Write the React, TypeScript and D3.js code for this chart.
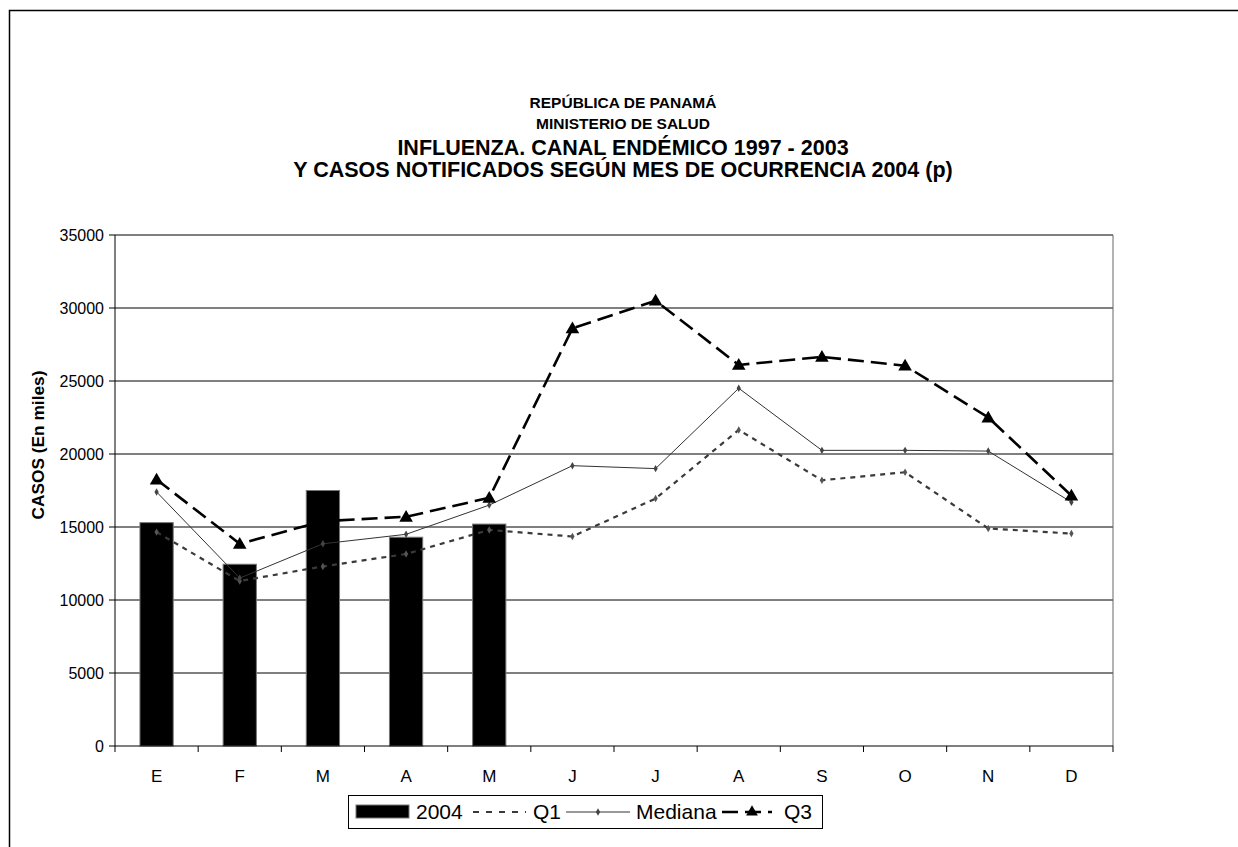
import * as d3 from 'd3';

// meses (E..D), valores en casos
const months = ['E', 'F', 'M', 'A', 'M', 'J', 'J', 'A', 'S', 'O', 'N', 'D'];
const cases2004 = [15300, 12450, 17500, 14300, 15200];
const q1 = [14650, 11300, 12300, 13150, 14800, 14350, 16950, 21650, 18200, 18750, 14900, 14550];
const mediana = [17400, 11500, 13850, 14500, 16500, 19200, 19000, 24500, 20250, 20250, 20200, 16700];
const q3 = [18250, 13850, 15400, 15700, 17000, 28600, 30500, 26100, 26650, 26050, 22500, 17150];
const yTicks = [0, 5000, 10000, 15000, 20000, 25000, 30000, 35000];
const titleLines = [
  'REPÚBLICA DE PANAMÁ',
  'MINISTERIO DE SALUD',
  'INFLUENZA. CANAL ENDÉMICO 1997 - 2003',
  'Y CASOS NOTIFICADOS SEGÚN MES DE OCURRENCIA 2004 (p)',
];

const font = '"Liberation Sans", Arial, sans-serif';

export default function App() {
  const width = 1238;
  const height = 847;
  const left = 115, right = 1113, top = 235, bottom = 746;

  const x = d3.scaleBand<number>()
    .domain(d3.range(months.length))
    .range([left, right]);
  const y = d3.scaleLinear().domain([0, 35000]).range([bottom, top]);
  const cx = (i: number) => x(i)! + x.bandwidth() / 2;
  const barW = x.bandwidth() * 0.4;

  const line = d3.line<number>().x((_, i) => cx(i)).y(d => y(d));
  const tri = d3.symbol(d3.symbolTriangle, 80)();
  const diamond = d3.symbol(d3.symbolDiamond, 16)();
  const triSmall = d3.symbol(d3.symbolTriangle, 60)();

  return (
    <svg width={width} height={height} style={{ position: 'absolute', left: 0, top: 0, fontFamily: font }}>
      <rect x={0} y={0} width={width} height={height} fill="#fff" />
      <rect x={9.5} y={10.5} width={1300} height={900} fill="none" stroke="#000" strokeWidth={1.5} />

      {/* titulo */}
      {titleLines.map((t, i) => (
        <text key={i} x={623} y={[108, 129, 155, 177][i]} textAnchor="middle"
          fontWeight="bold" fontSize={i < 2 ? 15.5 : 21.5}>{t}</text>
      ))}

      {/* grid */}
      {yTicks.filter(t => t > 0).map(t => (
        <line key={t} x1={left} x2={right} y1={y(t)} y2={y(t)} stroke="#000" strokeWidth={1} />
      ))}
      <line x1={right} x2={right} y1={top} y2={bottom} stroke="#666" strokeWidth={1} />

      {/* barras 2004 */}
      {cases2004.map((v, i) => (
        <rect key={i} x={cx(i) - barW / 2} y={y(v)} width={barW} height={bottom - y(v)}
          fill="#000" stroke="#777" strokeWidth={1} />
      ))}

      {/* ejes */}
      <line x1={left} x2={left} y1={top} y2={bottom} stroke="#000" />
      <line x1={left} x2={right} y1={bottom} y2={bottom} stroke="#000" />
      {yTicks.map(t => (
        <g key={t}>
          <line x1={left - 6} x2={left} y1={y(t)} y2={y(t)} stroke="#000" />
          <text x={left - 11} y={y(t)} dy="0.35em" textAnchor="end" fontSize={16}>{t}</text>
        </g>
      ))}
      {d3.range(months.length + 1).map(i => {
        const xx = left + i * x.bandwidth();
        return <line key={i} x1={xx} x2={xx} y1={bottom} y2={bottom + 6} stroke="#000" />;
      })}
      {months.map((m, i) => (
        <text key={i} x={cx(i)} y={776} dy="0.35em" textAnchor="middle" fontSize={17}>{m}</text>
      ))}
      <text transform={`translate(38,${445}) rotate(-90)`} textAnchor="middle" dy="0.35em"
        fontWeight="bold" fontSize={17.3}>CASOS (En miles)</text>

      {/* Q1 */}
      <path d={line(q1)!} fill="none" stroke="#3a3a3a" strokeWidth={2.2} strokeDasharray="5,5" />
      {q1.map((v, i) => (
        <path key={i} d={diamond!} transform={`translate(${cx(i)},${y(v)})`} fill="#555" />
      ))}
      {/* Mediana */}
      <path d={line(mediana)!} fill="none" stroke="#333" strokeWidth={1} />
      {mediana.map((v, i) => (
        <path key={i} d={diamond!} transform={`translate(${cx(i)},${y(v)})`} fill="#444" />
      ))}
      {/* Q3 */}
      <path d={line(q3)!} fill="none" stroke="#000" strokeWidth={2.6} strokeDasharray="16,7" />
      {q3.map((v, i) => (
        <path key={i} d={tri!} transform={`translate(${cx(i)},${y(v) + 1})`} fill="#000" />
      ))}

      {/* leyenda */}
      <rect x={348.5} y={795.5} width={474} height={33} fill="#fff" stroke="#000" />
      <rect x={356} y={805} width={53} height={13} fill="#000" stroke="#777" />
      <text x={416} y={812} dy="0.35em" fontSize={21}>2004</text>
      <line x1={473} x2={526} y1={812} y2={812} stroke="#3a3a3a" strokeWidth={2.2} strokeDasharray="6,7" />
      <text x={533} y={812} dy="0.35em" fontSize={21}>Q1</text>
      <line x1={566} x2={630} y1={812} y2={812} stroke="#333" strokeWidth={1} />
      <path d={diamond!} transform="translate(598,812)" fill="#444" />
      <text x={636} y={812} dy="0.35em" fontSize={21}>Mediana</text>
      <line x1={722} x2={772} y1={812} y2={812} stroke="#000" strokeWidth={2.6} strokeDasharray="16,7" />
      <path d={triSmall!} transform="translate(752,812)" fill="#000" />
      <text x={784} y={812} dy="0.35em" fontSize={21}>Q3</text>
    </svg>
  );
}
